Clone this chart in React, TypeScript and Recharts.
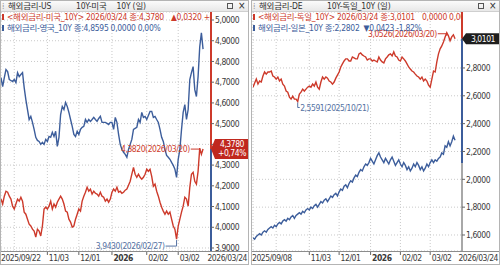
import React from "react";
import {
    CartesianGrid, Line, LineChart, ReferenceDot, ReferenceLine, XAxis, YAxis
} from "recharts";

const FONT = '"Liberation Sans Narrow", "Arial Narrow", "DejaVu Sans Condensed", "Noto Sans CJK KR", sans-serif';
const RED = "#cd3a2b";
const BLUE = "#3c5d9b";
const NOTE_BLUE = "#5572a3";
const GRID = "#c9c9c9";
const TEXT = "#3a3a3a";
const FS = 8.5;
const LS = -0.45;

// left panel: US 10Y (red) vs UK 10Y (blue), 2025/09/22 ~ 2026/03/24
const US_10Y = [
    4.136, 4.112, 4.150, 4.174, 4.169, 4.150, 4.136, 4.102, 4.088, 4.112,
    4.136, 4.126, 4.145, 4.126, 4.073, 4.063, 4.039, 4.015, 4.006, 3.991,
    3.982, 3.953, 3.991, 3.982, 3.958, 4.006, 4.088, 4.097, 4.088, 4.102,
    4.126, 4.088, 4.112, 4.097, 4.121, 4.136, 4.150, 4.136, 4.112, 4.078,
    4.073, 4.039, 4.025, 4.001, 4.006, 4.039, 4.063, 4.088, 4.078, 4.126,
    4.150, 4.169, 4.193, 4.174, 4.184, 4.160, 4.174, 4.164, 4.160, 4.150,
    4.169, 4.150, 4.145, 4.126, 4.136, 4.121, 4.136, 4.169, 4.184, 4.174,
    4.193, 4.169, 4.174, 4.164, 4.169, 4.179, 4.184, 4.203, 4.222, 4.256,
    4.289, 4.256, 4.241, 4.256, 4.241, 4.232, 4.241, 4.256, 4.280, 4.270,
    4.280, 4.246, 4.198, 4.208, 4.174, 4.150, 4.121, 4.097, 4.078, 4.063,
    4.078, 4.063, 4.073, 4.039, 4.006, 3.991, 3.943, 4.006, 4.039, 4.073,
    4.102, 4.145, 4.136, 4.102, 4.193, 4.256, 4.265, 4.222, 4.208, 4.270,
    4.382, 4.352, 4.378,
];
const UK_10Y = [
    4.722, 4.679, 4.722, 4.761, 4.751, 4.713, 4.708, 4.703, 4.713, 4.698,
    4.746, 4.727, 4.737, 4.746, 4.674, 4.616, 4.568, 4.520, 4.535, 4.506,
    4.472, 4.434, 4.419, 4.414, 4.400, 4.410, 4.400, 4.424, 4.414, 4.438,
    4.434, 4.458, 4.438, 4.463, 4.390, 4.434, 4.544, 4.583, 4.568, 4.602,
    4.583, 4.554, 4.520, 4.487, 4.448, 4.438, 4.463, 4.448, 4.472, 4.482,
    4.487, 4.520, 4.506, 4.520, 4.511, 4.520, 4.530, 4.520, 4.511, 4.525,
    4.535, 4.506, 4.506, 4.506, 4.501, 4.496, 4.506, 4.506, 4.472, 4.530,
    4.506, 4.448, 4.400, 4.376, 4.362, 4.352, 4.338, 4.376, 4.400, 4.424,
    4.472, 4.477, 4.482, 4.520, 4.506, 4.554, 4.530, 4.535, 4.520, 4.539,
    4.559, 4.559, 4.530, 4.535, 4.520, 4.506, 4.472, 4.434, 4.414, 4.376,
    4.347, 4.338, 4.328, 4.313, 4.299, 4.280, 4.241, 4.328, 4.376, 4.472,
    4.554, 4.592, 4.520, 4.568, 4.713, 4.746, 4.775, 4.664, 4.631, 4.727,
    4.871, 4.938, 4.8595,
];
const LEFT_X_TICKS = [8, 28, 47, 67, 88, 107];
const LEFT_X_LABELS = ["", "11/03", "12/01", "2026", "02/02", "03/02"];
const LEFT_Y_TICKS = [3.9, 4.0, 4.1, 4.2, 4.3, 4.4, 4.5, 4.6, 4.7, 4.8, 4.9, 5.0];

// right panel: Germany 10Y (red) vs Japan 10Y (blue), 2025/09/08 ~ 2026/03/24
const DE_10Y = [
    2.662, 2.692, 2.720, 2.684, 2.706, 2.699, 2.742, 2.771, 2.756, 2.771,
    2.771, 2.778, 2.742, 2.735, 2.720, 2.735, 2.706, 2.720, 2.684, 2.670,
    2.634, 2.626, 2.590, 2.576, 2.597, 2.576, 2.576, 2.559, 2.612, 2.626,
    2.648, 2.634, 2.648, 2.662, 2.670, 2.662, 2.684, 2.670, 2.699, 2.662,
    2.648, 2.699, 2.735, 2.720, 2.735, 2.727, 2.706, 2.699, 2.684, 2.699,
    2.727, 2.749, 2.771, 2.807, 2.829, 2.850, 2.865, 2.865, 2.850, 2.850,
    2.879, 2.872, 2.865, 2.865, 2.901, 2.908, 2.894, 2.886, 2.879, 2.857,
    2.865, 2.865, 2.850, 2.857, 2.850, 2.843, 2.879, 2.857, 2.843, 2.836,
    2.865, 2.879, 2.894, 2.901, 2.886, 2.915, 2.886, 2.879, 2.857, 2.850,
    2.879, 2.865, 2.850, 2.829, 2.807, 2.792, 2.778, 2.771, 2.756, 2.742,
    2.735, 2.720, 2.735, 2.706, 2.720, 2.706, 2.677, 2.662, 2.720, 2.778,
    2.771, 2.843, 2.901, 2.937, 2.958, 2.987, 3.023, 3.053, 3.031, 2.995,
    3.023, 3.038, 3.0101,
];
const JP_10Y = [
    1.58, 1.57, 1.59, 1.60, 1.61, 1.60, 1.62, 1.63, 1.62, 1.64,
    1.65, 1.66, 1.65, 1.67, 1.66, 1.68, 1.69, 1.68, 1.70, 1.71,
    1.70, 1.72, 1.71, 1.73, 1.74, 1.72, 1.74, 1.75, 1.76, 1.75,
    1.77, 1.76, 1.78, 1.79, 1.78, 1.80, 1.79, 1.81, 1.82, 1.80,
    1.82, 1.84, 1.83, 1.85, 1.86, 1.84, 1.86, 1.88, 1.87, 1.89,
    1.90, 1.88, 1.91, 1.93, 1.92, 1.95, 1.96, 1.94, 1.97, 1.99,
    1.98, 2.01, 2.03, 2.02, 2.05, 2.07, 2.06, 2.09, 2.11, 2.10,
    2.12, 2.15, 2.13, 2.11, 2.14, 2.17, 2.19, 2.16, 2.14, 2.12,
    2.15, 2.13, 2.11, 2.14, 2.16, 2.13, 2.10, 2.12, 2.14, 2.11,
    2.09, 2.12, 2.10, 2.07, 2.09, 2.06, 2.08, 2.11, 2.09, 2.12,
    2.10, 2.07, 2.09, 2.06, 2.08, 2.11, 2.09, 2.12, 2.14, 2.12,
    2.14, 2.13, 2.15, 2.16, 2.19, 2.18, 2.24, 2.23, 2.27, 2.24,
    2.27, 2.31, 2.2802,
];
const RIGHT_X_TICKS = [14, 34, 52, 71, 89, 107];
const RIGHT_X_LABELS = ["", "11/03", "12/01", "2026", "02/02", "03/02"];
const RIGHT_Y_TICKS = [1.6, 1.8, 2.0, 2.2, 2.4, 2.6, 2.8, 3.0];

const fmt = (v: number) => v.toFixed(4).replace(".", ",");

type Note = { i: number; text: string; color: string; kind: "maxL" | "minL" | "minR" };

type PanelProps = {
    left: number;
    plotLeft: number;
    title: string;
    sub: React.ReactNode;
    legend1: React.ReactNode;
    legend2: React.ReactNode;
    red: number[];
    blue: number[];
    xMax: number;
    yDomain: [number, number];
    yTicks: number[];
    hiddenY: number[];
    xTicks: number[];
    xLabels: string[];
    firstDate: string;
    lastDate: string;
    tag: string[];
    tagBg: string;
    segments: { from: number; to: number; color: string }[];
    notes: Note[];
};

function NoteMark({ cx, cy, note }: { cx: number; cy: number; note: Note }) {
    const common = { fontSize: FS, fontFamily: FONT, fill: note.color, letterSpacing: LS };
    if (note.kind === "maxL") {
        return (
            <g>
                <path d={`M${cx - 9} ${cy + 1} H${cx} V${cy + 3}`} stroke={note.color} fill="none" />
                <text x={cx - 10} y={cy + 4} textAnchor="end" {...common}>{note.text}</text>
            </g>
        );
    }
    if (note.kind === "minL") {
        return (
            <g>
                <path d={`M${cx - 11} ${cy + 7} H${cx} V${cy + 1}`} stroke={note.color} fill="none" />
                <text x={cx - 12} y={cy + 10} textAnchor="end" {...common}>{note.text}</text>
            </g>
        );
    }
    return (
        <g>
            <path d={`M${cx} ${cy + 1} V${cy + 6} H${cx + 2}`} stroke={note.color} fill="none" />
            <text x={cx + 2.5} y={cy + 9} textAnchor="start" {...common}>{note.text}</text>
        </g>
    );
}

function ValueTag({ cx, cy, lines, bg }: { cx: number; cy: number; lines: string[]; bg: string }) {
    const h = lines.length * 9 + 2;
    const top = cy - h / 2;
    return (
        <g>
            <path d={`M${cx} ${cy} L${cx + 4} ${top} H${cx + 37} V${top + h} H${cx + 4} Z`} fill={bg} />
            {lines.map((t, k) => (
                <text key={k} x={cx + 21} y={top + 8.5 + k * 9} textAnchor="middle" fill="#fff"
                    fontSize={FS} letterSpacing={LS} fontFamily={FONT}>{t}</text>
            ))}
        </g>
    );
}

function Panel(p: PanelProps) {
    const data = p.red.map((v, i) => ({ i, red: v, blue: p.blue[i] }));
    const lastRed = p.red[p.red.length - 1];

    const xTick = (props: any) => {
        const { x, y, payload } = props;
        const label = p.xLabels[p.xTicks.indexOf(payload.value)];
        if (!label) return <g />;
        return (
            <g>
                <line x1={x} y1={y} x2={x} y2={y + 4} stroke="#666" />
                <text x={x + 1.5} y={y + 10} fontSize={FS} letterSpacing={LS} fontFamily={FONT} fill={TEXT}
                    fontWeight={label === "2026" ? 700 : 400}>{label}</text>
            </g>
        );
    };

    const yTick = (props: any) => {
        const { x, y, payload } = props;
        if (p.hiddenY.includes(payload.value)) return <g />;
        return (
            <text x={x} y={y + 3.2} fontSize={FS} letterSpacing={LS} fontFamily={FONT} fill={TEXT}>
                {fmt(payload.value)}
            </text>
        );
    };

    return (
        <div style={{
            position: "absolute", left: p.left, top: 0, width: 249, height: 265,
            boxSizing: "border-box", border: "1px solid #b4b4b4", background: "#fff",
        }}>
            <div style={{ position: "absolute", left: 0, top: 0 }}>
                <LineChart width={247} height={263} data={data}
                    margin={{ top: 11, right: 0, bottom: 0, left: p.plotLeft }}>
                    <CartesianGrid stroke={GRID} strokeDasharray="1 2" />
                    <XAxis type="number" dataKey="i" domain={[0, p.xMax]} ticks={p.xTicks}
                        height={13} axisLine={false} tickLine={false} tickSize={0} tickMargin={0}
                        tick={xTick} interval={0} allowDataOverflow />
                    <YAxis orientation="right" width={37} domain={p.yDomain} ticks={p.yTicks}
                        allowDataOverflow axisLine={false} tickSize={3} tickMargin={1}
                        tickLine={{ stroke: "#666" }} tick={yTick} interval={0} />
                    <Line type="linear" dataKey="blue" stroke={BLUE} strokeWidth={1.4} dot={false}
                        isAnimationActive={false} />
                    <Line type="linear" dataKey="red" stroke={RED} strokeWidth={1.4} dot={false}
                        isAnimationActive={false} />
                    {p.segments.map((s, k) => (
                        <ReferenceLine key={k} ifOverflow="visible" stroke={s.color} strokeWidth={2}
                            segment={[{ x: p.xMax, y: s.from }, { x: p.xMax, y: s.to }]} />
                    ))}
                    {p.notes.map((n, k) => (
                        <ReferenceDot key={k} x={n.i} y={p.red[n.i]} r={0} ifOverflow="visible"
                            shape={(d: any) => <NoteMark cx={d.cx} cy={d.cy} note={n} />} />
                    ))}
                    <ReferenceDot x={p.xMax} y={lastRed} r={0} ifOverflow="visible"
                        shape={(d: any) => <ValueTag cx={d.cx} cy={d.cy} lines={p.tag} bg={p.tagBg} />} />
                </LineChart>
            </div>

            <div style={{
                position: "absolute", left: 0, top: 0, width: 247, height: 10,
                background: "linear-gradient(#fbfbfb, #e8e8e8)", borderBottom: "1px solid #cfcfcf",
                fontFamily: FONT, fontSize: FS, letterSpacing: -0.2, lineHeight: "10px", color: "#333",
                whiteSpace: "nowrap",
            }}>
                <span style={{ position: "absolute", left: 1, color: "#999" }}>⁞</span>
                <span style={{ position: "absolute", left: 7 }}>{p.title}</span>
                <span style={{ position: "absolute", left: 75 }}>{p.sub}</span>
                <span style={{
                    position: "absolute", left: 226, top: 2, width: 6, height: 6,
                    border: "1px solid #555", boxSizing: "border-box",
                }} />
                <span style={{ position: "absolute", left: 237, fontSize: 10 }}>×</span>
            </div>

            <div style={{
                position: "absolute", left: 1, top: 11, width: 209, overflow: "hidden",
                fontFamily: FONT, fontSize: FS, letterSpacing: -0.3, lineHeight: "10.5px", whiteSpace: "nowrap",
            }}>
                <div style={{ color: RED }}>
                    <span style={{ display: "inline-block", width: 2, height: 6, background: RED, marginRight: 3 }} />
                    {p.legend1}
                </div>
                <div style={{ color: BLUE }}>
                    <span style={{ display: "inline-block", width: 2, height: 6, background: BLUE, marginRight: 3 }} />
                    {p.legend2}
                </div>
            </div>

            <div style={{
                position: "absolute", left: 0, top: 250, width: 247, height: 13,
                borderTop: "1px solid #8c8c8c", fontFamily: FONT, fontSize: FS, letterSpacing: LS,
                color: TEXT, lineHeight: "12px", whiteSpace: "nowrap",
            }}>
                <span style={{ position: "absolute", left: 0 }}>{p.firstDate}</span>
                <span style={{ position: "absolute", right: 1 }}>{p.lastDate}</span>
            </div>
        </div>
    );
}

export default function App() {
    return (
        <div style={{ position: "absolute", left: 0, top: 0, width: 500, height: 265, background: "#fff", overflow: "hidden" }}>
            <Panel
                left={0}
                plotLeft={0}
                title="해외금리-US"
                sub={<>10Y-미국<span style={{ marginLeft: 10 }}>10Y (일)</span></>}
                legend1={<>&lt;해외금리-미국_10Y&gt; 2026/03/24 종:4,3780 <span style={{ marginLeft: 5 }}>▲0,0320</span> +0,74%</>}
                legend2={<>해외금리-영국_10Y 종:4,8595 0,0000 0,00%</>}
                red={US_10Y}
                blue={UK_10Y}
                xMax={126.8}
                yDomain={[3.8855, 5.0386]}
                yTicks={LEFT_Y_TICKS}
                hiddenY={[4.4]}
                xTicks={LEFT_X_TICKS}
                xLabels={LEFT_X_LABELS}
                firstDate="2025/09/22"
                lastDate="2026/03/24"
                tag={["4,3780", "+0,74%"]}
                tagBg="#c0281e"
                segments={[
                    { from: 4.378, to: 5.0386, color: RED },
                    { from: 3.8855, to: 4.378, color: BLUE },
                ]}
                notes={[
                    { i: 120, text: "4,3820(2026/03/20)", color: RED, kind: "maxL" },
                    { i: 106, text: "3,9430(2026/02/27)", color: NOTE_BLUE, kind: "minL" },
                ]}
            />
            <Panel
                left={251}
                plotLeft={1}
                title="해외금리-DE"
                sub="10Y-독일_10Y (일)"
                legend1={<>&lt;해외금리-독일_10Y&gt; 2026/03/24 종:3,0101 <span style={{ marginLeft: 5 }}>0,0000</span> 0,00%</>}
                legend2={<>해외금리-일본_10Y 종:2,2802 <span style={{ marginLeft: 2 }}>▼0,0423</span> -1,82%</>}
                red={DE_10Y}
                blue={JP_10Y}
                xMax={126.2}
                yDomain={[1.485, 3.202]}
                yTicks={RIGHT_Y_TICKS}
                hiddenY={[3.0]}
                xTicks={RIGHT_X_TICKS}
                xLabels={RIGHT_X_LABELS}
                firstDate="2025/09/08"
                lastDate="2026/03/24"
                tag={["3,0101"]}
                tagBg="#1e1e1e"
                segments={[
                    { from: 3.0101, to: 3.202, color: RED },
                    { from: 2.117, to: 3.0101, color: BLUE },
                    { from: 1.485, to: 2.117, color: "#a8a8a8" },
                ]}
                notes={[
                    { i: 117, text: "3,0526(2026/03/20)", color: RED, kind: "maxL" },
                    { i: 27, text: "2,5591(2025/10/21)", color: NOTE_BLUE, kind: "minR" },
                ]}
            />
        </div>
    );
}
